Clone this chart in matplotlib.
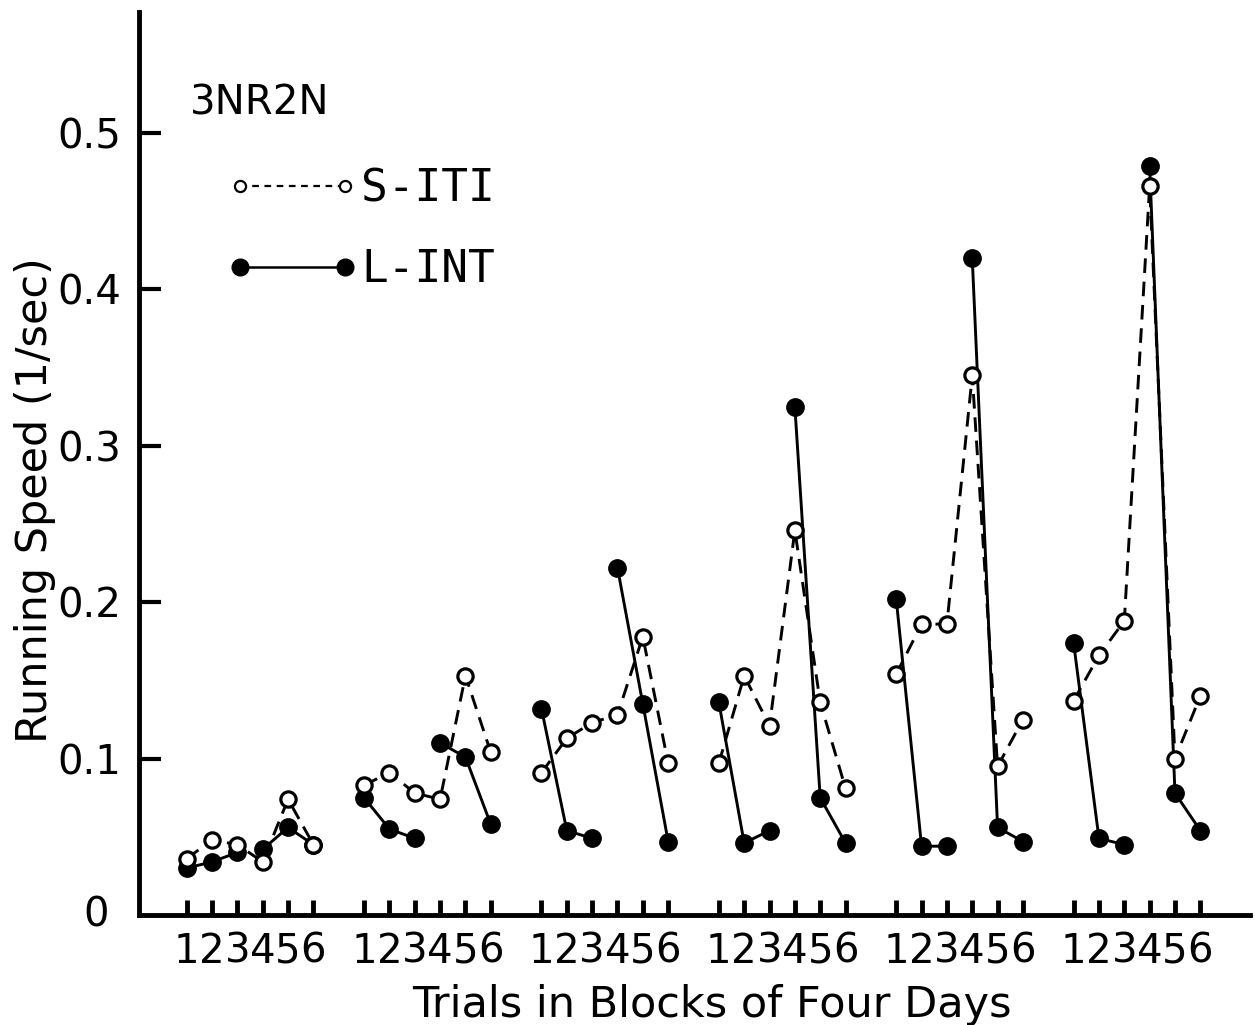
import matplotlib
matplotlib.use("Agg")
import matplotlib.pyplot as plt
from matplotlib.lines import Line2D
import numpy as np

# ---- data ----
blocks = [1, 2, 3, 4, 5, 6]
trials = [1, 2, 3, 4, 5, 6]
trial_labels = ["1", "2", "3", "4", "5", "6"]

s_iti = [
    [0.036, 0.048, 0.045, 0.034, 0.074, 0.045],
    [0.083, 0.091, 0.078, 0.074, 0.153, 0.104],
    [0.091, 0.113, 0.123, 0.128, 0.178, 0.097],
    [0.097, 0.153, 0.121, 0.246, 0.136, 0.081],
    [0.154, 0.186, 0.186, 0.345, 0.095, 0.125],
    [0.137, 0.166, 0.188, 0.466, 0.100, 0.140],
]
l_int = [
    [0.030, 0.034, 0.040, 0.042, 0.056, 0.045],
    [0.075, 0.055, 0.049, 0.110, 0.101, 0.058],
    [0.132, 0.054, 0.049, 0.222, 0.135, 0.047],
    [0.136, 0.046, 0.054, 0.325, 0.075, 0.046],
    [0.202, 0.044, 0.044, 0.420, 0.056, 0.047],
    [0.174, 0.049, 0.045, 0.479, 0.078, 0.054],
]

y_ticks = [0.1, 0.2, 0.3, 0.4, 0.5]
y_ticklabels = ["0.1", "0.2", "0.3", "0.4", "0.5"]

fig = plt.figure(figsize=(12.55, 10.25), dpi=100)
ax = fig.add_axes([0.1108, 0.1073, 0.885, 0.881])

block_step = 7  # six trials plus a gap of one trial width
lw = 2.1
for b in range(len(blocks)):
    xs = np.array(trials) - 1 + b * block_step
    ys_l = l_int[b]
    # filled: trials 1-3 and 4-6 joined separately
    ax.plot(xs[:3], ys_l[:3], color="black", lw=lw, marker="o", ms=12.5,
            mfc="black", mec="black", zorder=3)
    ax.plot(xs[3:], ys_l[3:], color="black", lw=lw, marker="o", ms=12.5,
            mfc="black", mec="black", zorder=3)
    ax.plot(xs, s_iti[b], color="black", lw=lw, ls=(0, (5, 3)), marker="o",
            ms=11, mfc="white", mec="black", mew=2.3, zorder=4)

ax.set_xlim(-1.88, 41.95)
ax.set_ylim(0, 0.5774)

# x ticks: every trial in every block
xt = [t - 1 + b * block_step for b in range(len(blocks)) for t in trials]
xl = [trial_labels[t - 1] for b in range(len(blocks)) for t in trials]
ax.set_xticks(xt)
ax.set_xticklabels(xl, fontsize=29, family="Liberation Sans Narrow")
ax.tick_params(axis="x", direction="in", length=11, width=3.5, pad=12)

ax.set_yticks(y_ticks)
ax.set_yticklabels(y_ticklabels, fontsize=29, family="DejaVu Sans")
ax.tick_params(axis="y", direction="in", length=16, width=3, pad=13)

# the 0 label at the origin
ax.text(-0.027, 0.0, "0", transform=ax.get_yaxis_transform(), ha="right",
        va="center", fontsize=29, family="DejaVu Sans")

for s in ["top", "right"]:
    ax.spines[s].set_visible(False)
ax.spines["left"].set_linewidth(3.5)
ax.spines["bottom"].set_linewidth(3.5)

ax.set_ylabel("Running Speed (1/sec)", fontsize=31, family="DejaVu Sans")
ax.yaxis.set_label_coords(-0.075, 0.46)
ax.set_xlabel("Trials in Blocks of Four Days", fontsize=31,
              family="DejaVu Sans")
ax.xaxis.set_label_coords(0.516, -0.076)

ax.text(0.046, 0.899, "3NR2N", transform=ax.transAxes, fontsize=29,
        family="Liberation Sans Narrow", ha="left", va="center")

handles = [
    Line2D([], [], color="black", lw=1.6, ls=(0, (3, 2.5)), marker="o", ms=8,
           mfc="white", mec="black", mew=1.6),
    Line2D([], [], color="black", lw=1.8, marker="o", ms=12, mfc="black",
           mec="black"),
]
leg = ax.legend(handles, ["S-ITI", "L-INT"], loc="upper left",
                bbox_to_anchor=(0.079, 0.828), frameon=False, numpoints=2,
                handlelength=2.97, handletextpad=0.05, labelspacing=0.85,
                prop={"family": "DejaVu Sans Mono", "size": 32},
                borderaxespad=0, borderpad=0)

fig.savefig("out.png", dpi=100)
